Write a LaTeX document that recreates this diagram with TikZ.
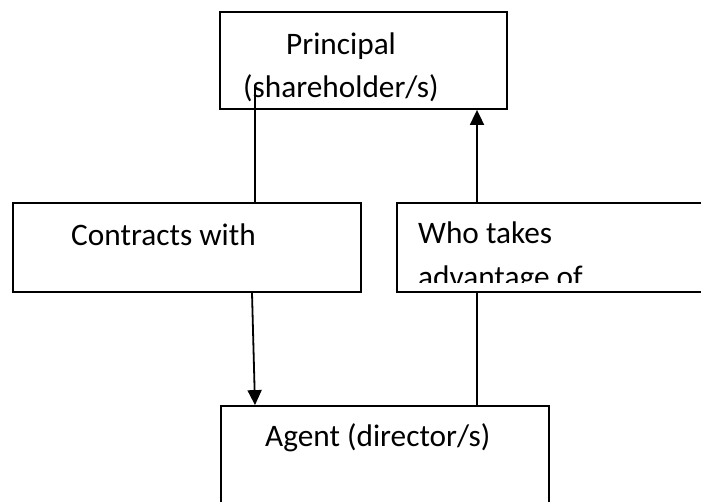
\documentclass[tikz,border=0pt]{standalone}
\usepackage{fontspec}
\setmainfont{Carlito}
\usetikzlibrary{arrows.meta}

\tikzset{
	box/.style={draw, line width=1.8pt, rectangle, inner sep=0pt},
	lbl/.style={anchor=base west, inner sep=0pt, font=\fontsize{31.3pt}{44pt}\selectfont},
	link/.style={line width=1.3pt},
	arrow/.style={line width=1.8pt, -{Triangle[width=14pt,length=15pt]}}
}

\begin{document}
\begin{tikzpicture}[x=1pt, y=-1pt]
	\useasboundingbox (0,0) rectangle (701,501);
	\clip (0,0) rectangle (701,501);

  % Boxes
	\node[box, minimum width=287pt, minimum height=97pt] (princ) at (363.5,60.5) {};
	\node[box, minimum width=348pt, minimum height=89pt] (contr) at (187,247.5) {};
	\node[box, minimum width=330pt, minimum height=89pt] (who) at (562,247.5) {};
	\node[box, minimum width=328pt, minimum height=114pt] (agent) at (385,463) {};

  % Labels
	\node[lbl] (princtxt) at (286,54) {Principal};
	\node[lbl] (sharetxt) at (243,97) {(shareholder/s)};
	\node[lbl] (contrtxt) at (71,245) {Contracts with};
	\node[lbl] (whotxt) at (418,243) {Who takes};
	\begin{scope}
		\clip (397,203) rectangle (701,282);
		\node[lbl] (advtxt) at (418,287) {advantage of};
	\end{scope}
	\node[lbl] (agenttxt) at (265,446) {Agent (director/s)};

  % Connectors
	\coordinate (start) at (255,85);
	\draw[link] (start) -- (contr.north -| start);
	\draw[arrow] ([xshift=65pt]contr.south) -- ([xshift=-130pt]agent.north);
	\draw[link] ([xshift=-85pt]who.south) -- ([xshift=92pt]agent.north);
	\draw[arrow] ([xshift=-85pt]who.north) -- ([xshift=113.5pt]princ.south);
\end{tikzpicture}
\end{document}
